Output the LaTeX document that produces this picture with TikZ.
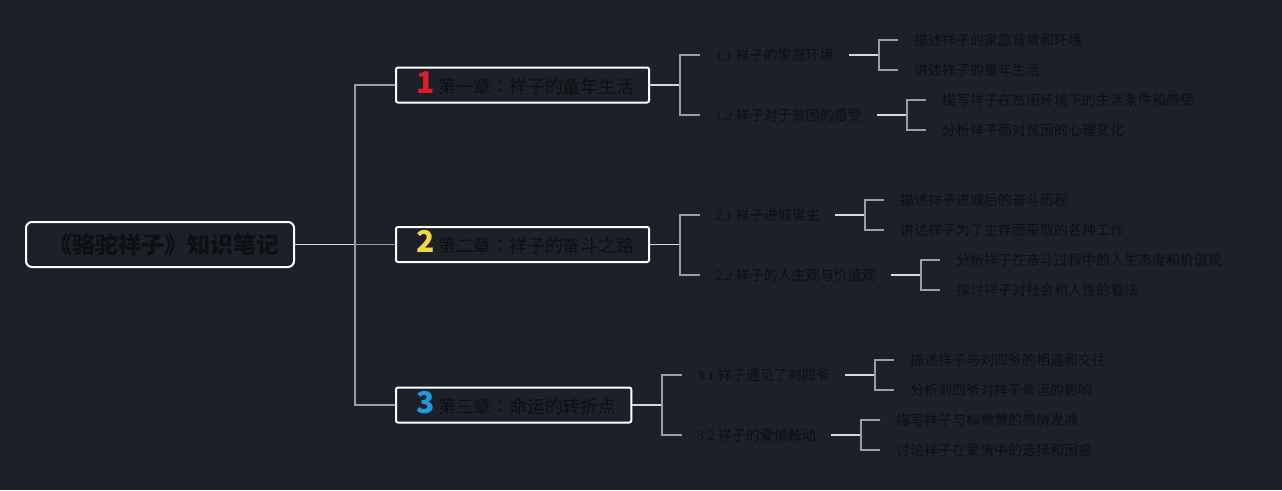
\documentclass[tikz,border=0pt]{standalone}
\usepackage{fontspec}
\usepackage{xcolor}
\usetikzlibrary{positioning,calc}
\newfontfamily\cjk{Noto Sans CJK SC}
\newfontfamily\cjkpunct{Noto Sans CJK TC}
\newfontfamily\serif{Liberation Serif}
\definecolor{Bg}{HTML}{1C2028}
\definecolor{Ink}{HTML}{0E1013}
\definecolor{Stem}{HTML}{D4D7DC}
\definecolor{Fork}{HTML}{9A9EA6}
\definecolor{NumRed}{HTML}{E01B2B}
\definecolor{NumYellow}{HTML}{F3D54A}
\definecolor{NumBlue}{HTML}{1F9BDE}
\newcommand\chapnum[2]{{\cjk\bfseries\fontsize{30}{30}\selectfont\color{#1}#2}}
\newcommand\secno[1]{{\serif #1}}
\newcommand\cn{{\cjkpunct ：}}

\begin{document}
\begin{tikzpicture}[x=1pt,y=-1pt,
  rootbox/.style={draw=white,line width=2pt,rounded corners=6pt,fill=Bg,text=Ink,anchor=west,
    minimum height=45pt,inner xsep=15pt,font={\cjk\bfseries\fontsize{23}{26}\selectfont}},
  chapbox/.style={draw=white,line width=2pt,rounded corners=2pt,fill=Bg,text=Ink,anchor=west,
    minimum height=35pt,inner xsep=15pt,inner ysep=0pt,text height=19pt,text depth=3pt,
    font={\cjk\fontsize{17.8}{20}\selectfont}},
  sub/.style={anchor=west,text=Ink,inner xsep=15pt,text height=1.05em,text depth=0.05em,
    font={\cjk\fontsize{14}{16}\selectfont}},
  leaf/.style={anchor=west,text=Ink,inner xsep=16pt,text height=1.05em,text depth=0.05em,
    font={\cjk\fontsize{14}{16}\selectfont}},
  stem/.style={draw=Stem,line width=1.8pt},
  fork/.style={draw=Fork,line width=1.6pt}]
\fill[Bg] (0,0) rectangle (1282,490);
\useasboundingbox (0,0) rectangle (1282,490);

% root and chapters
\node[rootbox] (root) at (25,244.5) {\hspace{8pt}《骆驼祥子》知识笔记};
\node[chapbox] (c1) at (395,85) {\hspace{5pt}\chapnum{NumRed}{1}\hspace{4pt}第一章\cn 祥子的童年生活};
\node[chapbox] (c2) at (395,244.5) {\hspace{5pt}\chapnum{NumYellow}{2}\hspace{4pt}第二章\cn 祥子的奋斗之路};
\node[chapbox] (c3) at (395,405) {\hspace{5pt}\chapnum{NumBlue}{3}\hspace{4pt}第三章\cn 命运的转折点};

% sections
\node[sub] (s11) at (700,55) {\secno{1.1} 祥子的家庭环境};
\node[sub] (s12) at (700,115) {\secno{1.2} 祥子对于贫困的感受};
\node[sub] (s21) at (700,215) {\secno{2.1} 祥子进城谋生};
\node[sub] (s22) at (700,275) {\secno{2.2} 祥子的人生观与价值观};
\node[sub] (s31) at (682,375) {\secno{3.1} 祥子遇见了刘四爷};
\node[sub] (s32) at (682,435) {\secno{3.2} 祥子的爱情触动};

% details
\foreach \n/\x/\y/\t in {l111/898/40/描述祥子的家庭背景和环境, l112/898/70/讲述祥子的童年生活,
  l121/926/100/描写祥子在贫困环境下的生活条件和感受, l122/926/130/分析祥子面对贫困的心理变化,
  l211/884/200/描述祥子进城后的奋斗历程, l212/884/230/讲述祥子为了生存而采取的各种工作,
  l221/940/260/分析祥子在奋斗过程中的人生态度和价值观, l222/940/290/探讨祥子对社会和人性的看法,
  l311/894/360/描述祥子与刘四爷的相遇和交往, l312/894/390/分析刘四爷对祥子命运的影响,
  l321/880/420/描写祥子与柳莺莺的感情发展, l322/880/450/讨论祥子在爱情中的选择和困惑}
  \node[leaf] (\n) at (\x,\y) {\t};

% junctions
\coordinate (root-j) at (355,244.5);
\foreach \p/\x in {c1/680,c2/680,c3/662,s11/879,s12/907,s21/865,s22/921,s31/875,s32/861}
  \coordinate (\p-j) at (\x,0 |- \p.east);

% connectors
\draw[stem] (root.east) -- (root-j);
\draw[fork] (c1.west) -| (root-j) |- (c3.west);
\draw[fork] (root-j) -- (c2.west);
\foreach \p/\a/\b in {c1/s11/s12,c2/s21/s22,c3/s31/s32,s11/l111/l112,s12/l121/l122,
  s21/l211/l212,s22/l221/l222,s31/l311/l312,s32/l321/l322}{
  \draw[stem] (\p.east) -- (\p-j);
  \draw[fork] (\a.west) -| (\p-j) |- (\b.west);
}
\end{tikzpicture}
\end{document}
